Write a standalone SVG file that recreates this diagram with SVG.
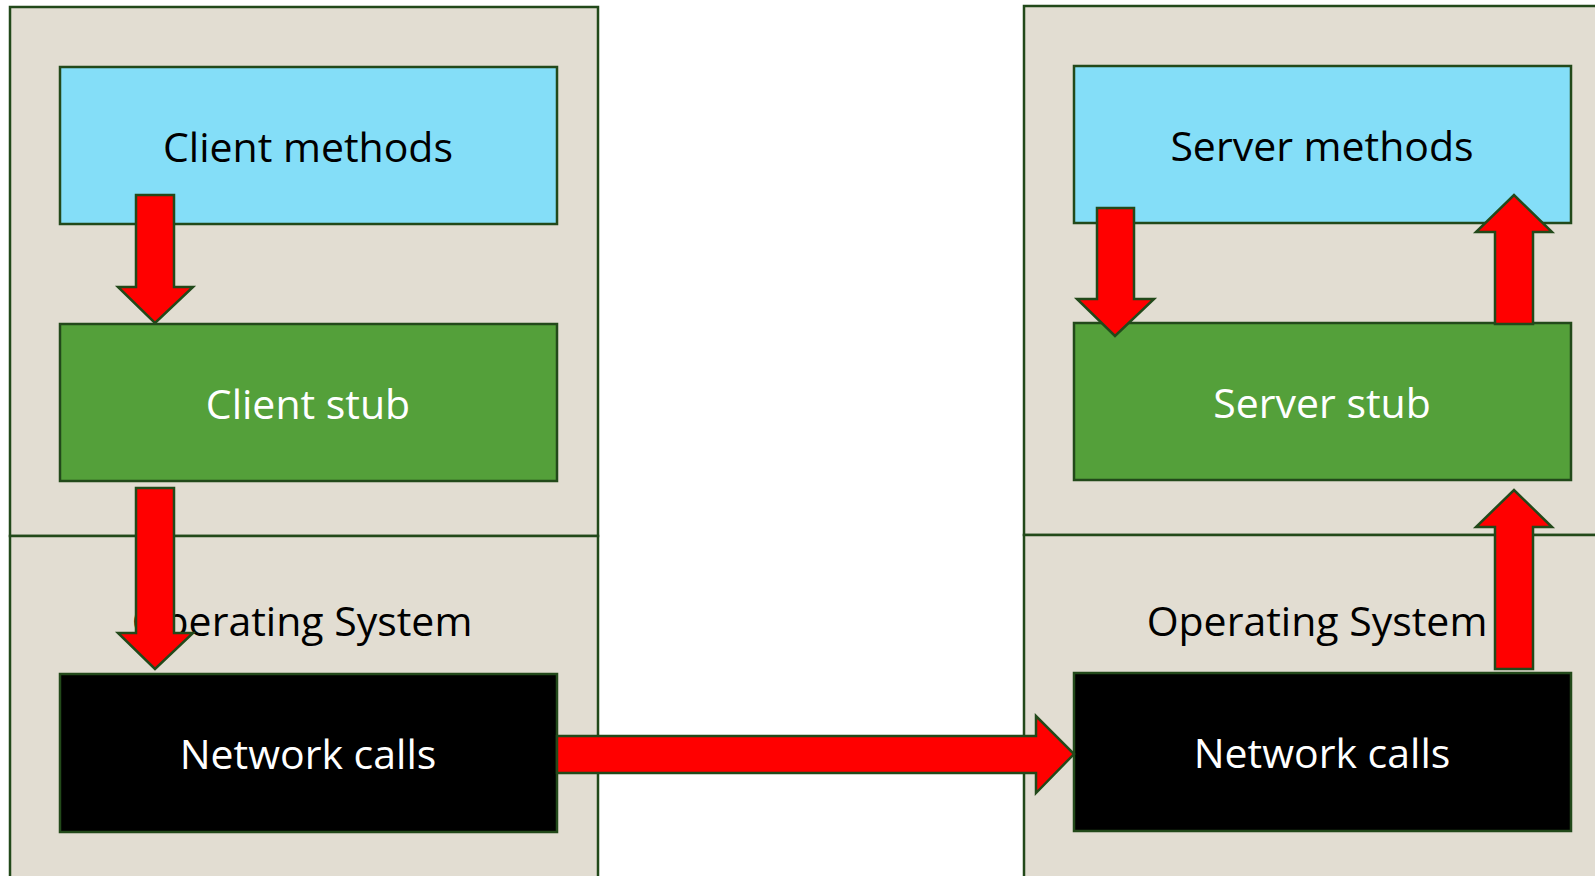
<svg xmlns="http://www.w3.org/2000/svg" width="1595" height="876" viewBox="0 0 1595 876">
  <style>
    .frame { fill: #e2ddd2; stroke: #22491a; stroke-width: 2.5; }
    .box { stroke: #22491a; stroke-width: 2.5; }
    .methods { fill: #84def8; }
    .stub { fill: #54a03a; }
    .net { fill: #000000; }
    .arrow { fill: #ff0000; stroke: #22491a; stroke-width: 2.5; stroke-linejoin: miter; }
    text { font-family: "Open Sans", "Liberation Sans", sans-serif; font-size: 41px; text-anchor: middle; }
    .dark { fill: #000000; }
    .light { fill: #ffffff; }
  </style>

  <!-- Client machine -->
  <g id="client-app">
    <rect class="frame" x="10" y="7" width="588" height="529"/>
  </g>
  <g id="client-os">
    <rect class="frame" x="10" y="536" width="588" height="345"/>
    <text class="dark" x="302" y="636">Operating System</text>
  </g>
  <g id="client-methods">
    <rect class="box methods" x="60" y="67" width="497" height="157"/>
    <text class="dark" x="308" y="162">Client methods</text>
  </g>
  <g id="client-stub">
    <rect class="box stub" x="60" y="324" width="497" height="157"/>
    <text class="light" x="308" y="419">Client stub</text>
  </g>
  <g id="client-network">
    <rect class="box net" x="60" y="674" width="497" height="158"/>
    <text class="light" x="308" y="769">Network calls</text>
  </g>

  <!-- Server machine -->
  <g id="server-app">
    <rect class="frame" x="1024" y="6" width="600" height="529"/>
  </g>
  <g id="server-os">
    <rect class="frame" x="1024" y="535" width="600" height="346"/>
    <text class="dark" x="1317" y="636">Operating System</text>
  </g>
  <g id="server-methods">
    <rect class="box methods" x="1074" y="66" width="497" height="157"/>
    <text class="dark" x="1322" y="161">Server methods</text>
  </g>
  <g id="server-stub">
    <rect class="box stub" x="1074" y="323" width="497" height="157"/>
    <text class="light" x="1322" y="418">Server stub</text>
  </g>
  <g id="server-network">
    <rect class="box net" x="1074" y="673" width="497" height="158"/>
    <text class="light" x="1322" y="768">Network calls</text>
  </g>

  <!-- Block arrows -->
  <g id="connectors">
    <!-- client methods to client stub -->
    <polygon class="arrow" points="136,195 174,195 174,287 193,287 155,323 118,287 136,287"/>
    <!-- client stub to network calls -->
    <polygon class="arrow" points="136,488 174,488 174,633 193,633 155,669 118,633 136,633"/>
    <!-- client network to server network -->
    <polygon class="arrow" points="557,736 1036,736 1036,716 1074,754 1036,793 1036,773 557,773"/>
    <!-- server methods to server stub -->
    <polygon class="arrow" points="1097,208 1134,208 1134,299 1154,299 1115,336 1077,299 1097,299"/>
    <!-- server stub back up to server methods -->
    <polygon class="arrow" points="1495,324 1533,324 1533,232 1552,232 1514,195 1476,232 1495,232"/>
    <!-- server network up to server stub -->
    <polygon class="arrow" points="1495,669 1533,669 1533,527 1552,527 1514,490 1476,527 1495,527"/>
  </g>
</svg>
